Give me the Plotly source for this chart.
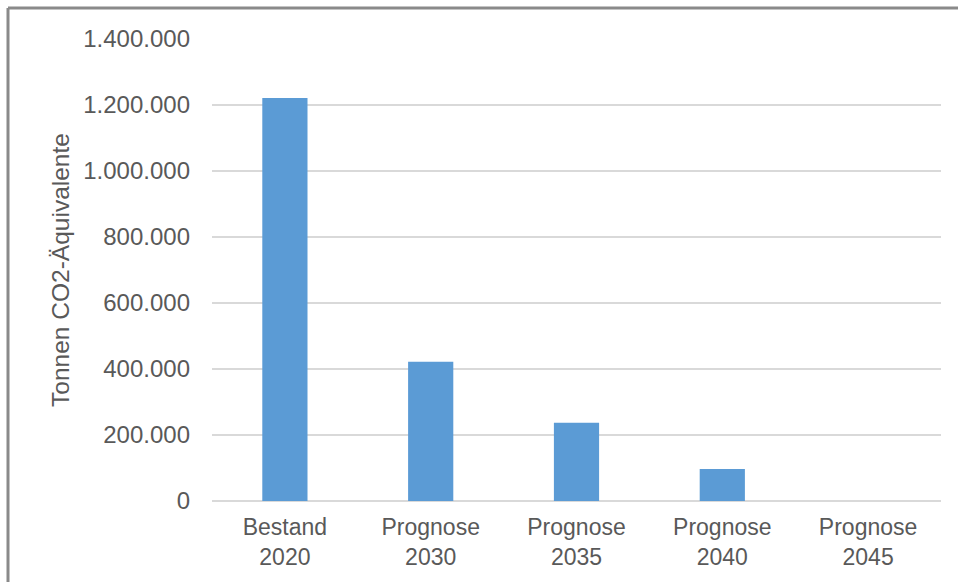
import plotly.graph_objects as go

categories = ["Bestand<br>2020", "Prognose<br>2030", "Prognose<br>2035", "Prognose<br>2040", "Prognose<br>2045"]
values = [1221000, 422000, 237000, 97000, 0]
y_ticks = [0, 200000, 400000, 600000, 800000, 1000000, 1200000, 1400000]
y_title = "Tonnen CO2-Äquivalente"

W, H = 958, 582
L, R, T, B = 212, 17, 39, 81
pw, ph = W - L - R, H - T - B

fig = go.Figure()
fig.add_trace(go.Bar(
    x=categories, y=values,
    marker=dict(color="#5B9BD5", line=dict(width=0)),
))

bx = (8 - L) / pw
by = 1 + (T - 8) / ph
fig.add_shape(type="line", xref="paper", yref="paper", x0=bx, x1=bx, y0=-0.3, y1=by,
              line=dict(color="#8A8A8A", width=3))
fig.add_shape(type="line", xref="paper", yref="paper", x0=bx, x1=1.2, y0=by, y1=by,
              line=dict(color="#8A8A8A", width=3))

fig.update_layout(
    width=W, height=H,
    margin=dict(l=L, r=R, t=T, b=B, pad=0),
    paper_bgcolor="white", plot_bgcolor="white",
    separators=",.",
    bargap=0.69,
    showlegend=False,
    font=dict(family="Liberation Sans, Arial, sans-serif", color="#595959", size=23),
    xaxis=dict(showgrid=False, zeroline=False, showline=False, ticks="",
               tickfont=dict(size=23, color="#595959"), ticklabelstandoff=10),
    yaxis=dict(range=[0, 1400000], tickvals=y_ticks, tickformat=",d",
               showgrid=True, gridcolor="#D9D9D9", gridwidth=2,
               zeroline=True, zerolinecolor="#D9D9D9", zerolinewidth=2,
               showline=False, ticks="", ticklabelstandoff=21,
               tickfont=dict(size=24, color="#595959"),
               title=dict(text=y_title, font=dict(size=24.5, color="#595959"), standoff=6)),
)

fig.write_html("out.html", config={"displayModeBar": False})
with open("out.html", "r", encoding="utf-8") as f:
    html = f.read()
html = html.replace("<body>", '<body style="margin:0;padding:0;overflow:hidden">', 1)
html = html.replace("<head>", '<head><style>html,body{margin:0;padding:0;overflow:hidden}</style>', 1)
with open("out.html", "w", encoding="utf-8") as f:
    f.write(html)
